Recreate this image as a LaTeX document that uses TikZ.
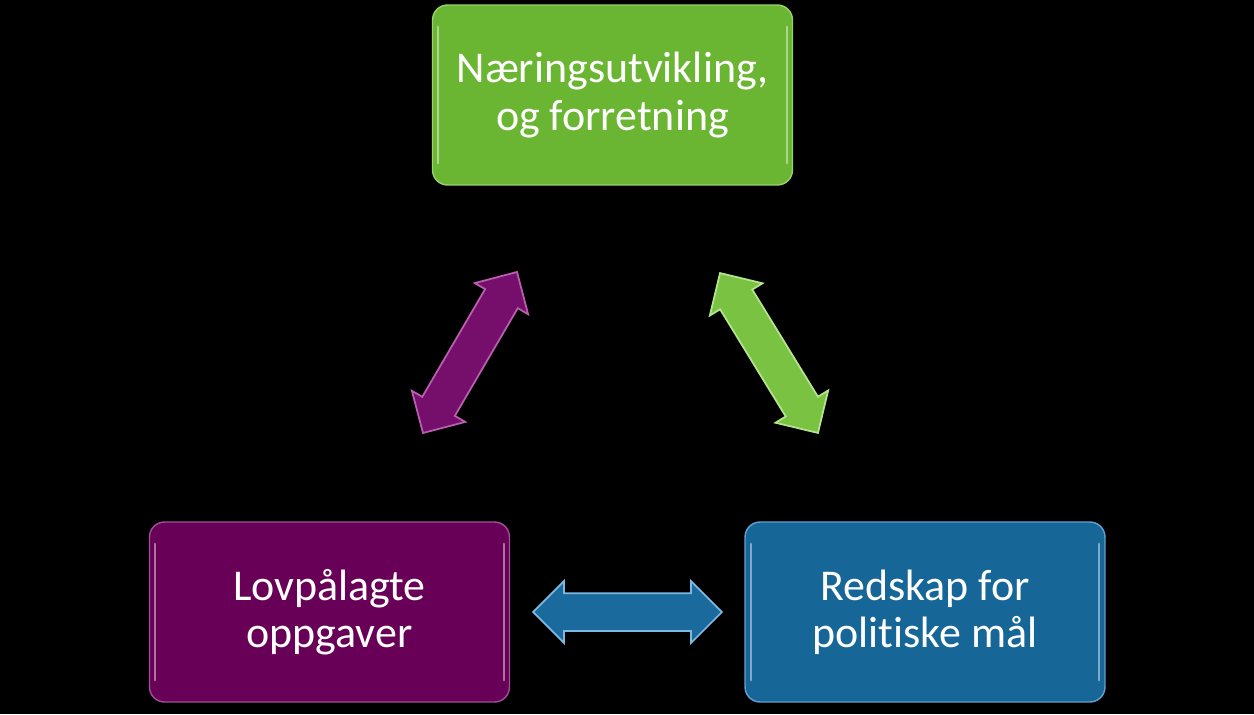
\documentclass[tikz,border=0pt]{standalone}
\usepackage{fontspec}
\setmainfont{Carlito}[Ligatures=NoCommon]
\usetikzlibrary{shapes.arrows,calc}
\definecolor{gbox}{RGB}{106,182,50}
\definecolor{gedge}{RGB}{150,210,110}
\definecolor{pbox}{RGB}{104,0,88}
\definecolor{pedge}{RGB}{160,80,150}
\definecolor{bbox}{RGB}{22,102,152}
\definecolor{bedge}{RGB}{100,160,205}
\definecolor{garrow}{RGB}{122,194,66}
\definecolor{garrowedge}{RGB}{180,228,140}
\definecolor{parrow}{RGB}{118,14,108}
\definecolor{parrowedge}{RGB}{185,95,175}
\definecolor{barrow}{RGB}{26,106,158}
\definecolor{barrowedge}{RGB}{125,185,225}
\begin{document}
\begin{tikzpicture}[x=0.02cm,y=-0.02cm,
  box/.style={rounded corners=0.3cm, minimum width=7.2cm, minimum height=3.6cm,
    text=white, font=\fontsize{25}{27}\selectfont, align=center, line width=0.8pt},
  darrow/.style={double arrow, double arrow head extend=0.24cm, minimum width=1.2cm,
    inner xsep=0pt, inner ysep=0.36cm, line width=1pt},
  streak/.style={line width=1.3pt, white, opacity=0.45, line cap=round}]
\fill[black] (0,0) rectangle (1254,714);
\useasboundingbox (0,0) rectangle (1254,714);
% boxes
\node[box, fill=gbox, draw=gedge] (g) at (612.5,95) {Næringsutvikling,\\og forretning};
\node[box, fill=pbox, draw=pedge] (p) at (329.5,612) {Lovpålagte\\oppgaver};
\node[box, fill=bbox, draw=bedge] (b) at (925,612) {Redskap for\\politiske mål};
% edge highlights
\foreach \n in {g,p,b}{
  \draw[streak] ([xshift=0.13cm,yshift=-0.45cm]\n.north west) -- ([xshift=0.13cm,yshift=0.45cm]\n.south west);
  \draw[streak] ([xshift=-0.13cm,yshift=-0.45cm]\n.north east) -- ([xshift=-0.13cm,yshift=0.45cm]\n.south east);
}
% arrow end points
\coordinate (pa1) at (423,433);
\coordinate (pa2) at (517,272);
\coordinate (ga1) at (720,273);
\coordinate (ga2) at (818,433);
\coordinate (ba1) at (533,612);
\coordinate (ba2) at (722,612);
% arrows
\path (pa1) -- (pa2) node[darrow, sloped, midway, fill=parrow, draw=parrowedge, minimum height=3.73cm] (arrP) {};
\path (ga1) -- (ga2) node[darrow, sloped, midway, fill=garrow, draw=garrowedge, minimum height=3.75cm] (arrG) {};
\path (ba1) -- (ba2) node[darrow, sloped, midway, fill=barrow, draw=barrowedge, minimum height=3.78cm] (arrB) {};
\end{tikzpicture}
\end{document}
